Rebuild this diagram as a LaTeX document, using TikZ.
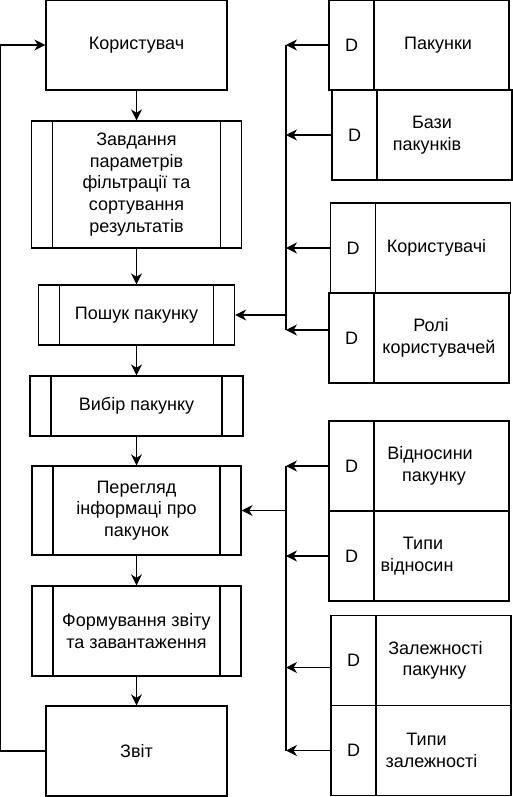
\documentclass[tikz,border=0pt]{standalone}
\usepackage{fontspec}
\setmainfont{Liberation Sans}
\usetikzlibrary{arrows.meta,positioning}

\begin{document}
\begin{tikzpicture}[
    x=1pt, y=-1pt,
    line width=1.3pt,
    every node/.style={font=\fontsize{18}{21.6}\selectfont},
    block/.style={rectangle, draw, minimum width=181pt, minimum height=90pt, align=center, inner sep=2pt},
    subproc/.style={block, path picture={
        \draw ([xshift=21pt]path picture bounding box.north west) -- ([xshift=21pt]path picture bounding box.south west);
        \draw ([xshift=-21pt]path picture bounding box.north east) -- ([xshift=-21pt]path picture bounding box.south east);}},
    dcell/.style={rectangle, draw, outer sep=0pt, inner sep=0pt, minimum width=45pt, minimum height=90pt},
    tcell/.style={rectangle, draw, outer sep=0pt, inner sep=0pt, minimum width=135pt, minimum height=90pt, align=center},
    arr/.style={-{Stealth[length=11pt, width=11pt, inset=3.5pt]}},
]
    \useasboundingbox (0,0) rectangle (513,797);

    % main flow
    \node[block] (user) at (136.5,45) {Користувач};
    \node[subproc, minimum width=210pt, minimum height=127pt, below=29.7pt of user] (params) {Завдання\\параметрів\\фільтрації та\\сортування\\результатів};
    \node[subproc, minimum width=196pt, minimum height=60pt, below=35.7pt of params] (search) {Пошук пакунку};
    \node[subproc, minimum width=213pt, minimum height=60pt, below=29.7pt of search] (choose) {Вибір пакунку};
    \node[subproc, minimum width=209pt, minimum height=89pt, below=28.7pt of choose] (view) {Перегляд\\інформаці про\\пакунок};
    \node[subproc, minimum width=209pt, below=29.7pt of view] (form) {Формування звіту\\та завантаження};
    \node[block, below=28.7pt of form] (report) {Звіт};

    % data stores
    \node[dcell] (pakd) at (351.5,45) {D};
    \node[tcell, right=0pt of pakd] (pak) {Пакунки\hspace*{7pt}};
    \node[dcell, below=0pt of pakd, xshift=3pt] (bazd) {D};
    \node[tcell, right=0pt of bazd] (baz) {Бази\hspace*{25pt}\\пакунків\hspace*{35pt}};
    \node[dcell] (kord) at (353,248) {D};
    \node[tcell, right=0pt of kord] (kor) {Користувачі\hspace*{13pt}};
    \node[dcell, below=0pt of kord, xshift=-1.5pt] (rold) {D};
    \node[tcell, right=0pt of rold] (rol) {Ролі\hspace*{21pt}\\користувачей\hspace*{5pt}};

    \node[dcell] (vidd) at (351.5,466) {D};
    \node[tcell, right=0pt of vidd] (vid) {Відносини\hspace*{23pt}\\пакунку\hspace*{15pt}};
    \node[dcell, below=0pt of vidd] (tvd) {D};
    \node[tcell, right=0pt of tvd] (tv) {Типи\hspace*{37pt}\\відносин\hspace*{49pt}};
    \node[dcell] (zald) at (353.5,660.5) {D};
    \node[tcell, right=0pt of zald] (zal) {Залежності\hspace*{16pt}\\пакунку\hspace*{18pt}};
    \node[dcell, below=0pt of zald] (tzd) {D};
    \node[tcell, right=0pt of tzd] (tz) {Типи\hspace*{34pt}\\залежності\hspace*{24pt}};

    \coordinate (bus) at (286,0);

    % flow arrows
    \draw[arr] (user) -- (params);
    \draw[arr] (params) -- (search);
    \draw[arr] (search) -- (choose);
    \draw[arr] (choose) -- (view);
    \draw[arr] (view) -- (form);
    \draw[arr] (form) -- (report);
    \draw[arr] (report.west) -- ++(-45,0) |- (user.west);

    % upper stores to search
    \draw[arr] (pakd.west) -- (pakd.west -| bus);
    \draw[arr] (bazd.west) -- (bazd.west -| bus);
    \draw[arr] (kord.west) -- (kord.west -| bus);
    \draw[arr] ([yshift=8pt]rold.west) -- ([yshift=8pt]rold.west -| bus);
    \draw (pakd.west -| bus) -- ([yshift=8pt]rold.west -| bus);
    \draw[arr] (search -| bus) -- (search);

    % lower stores to view
    \draw[arr] (vidd.west) -- (vidd.west -| bus);
    \draw[arr] (tvd.west) -- (tvd.west -| bus);
    \draw[arr] ([yshift=-7pt]zald.west) -- ([yshift=-7pt]zald.west -| bus);
    \draw[arr] (tzd.west) -- (tzd.west -| bus);
    \draw (vidd.west -| bus) -- (tzd.west -| bus);
    \draw[arr] (view -| bus) -- (view);
\end{tikzpicture}
\end{document}
